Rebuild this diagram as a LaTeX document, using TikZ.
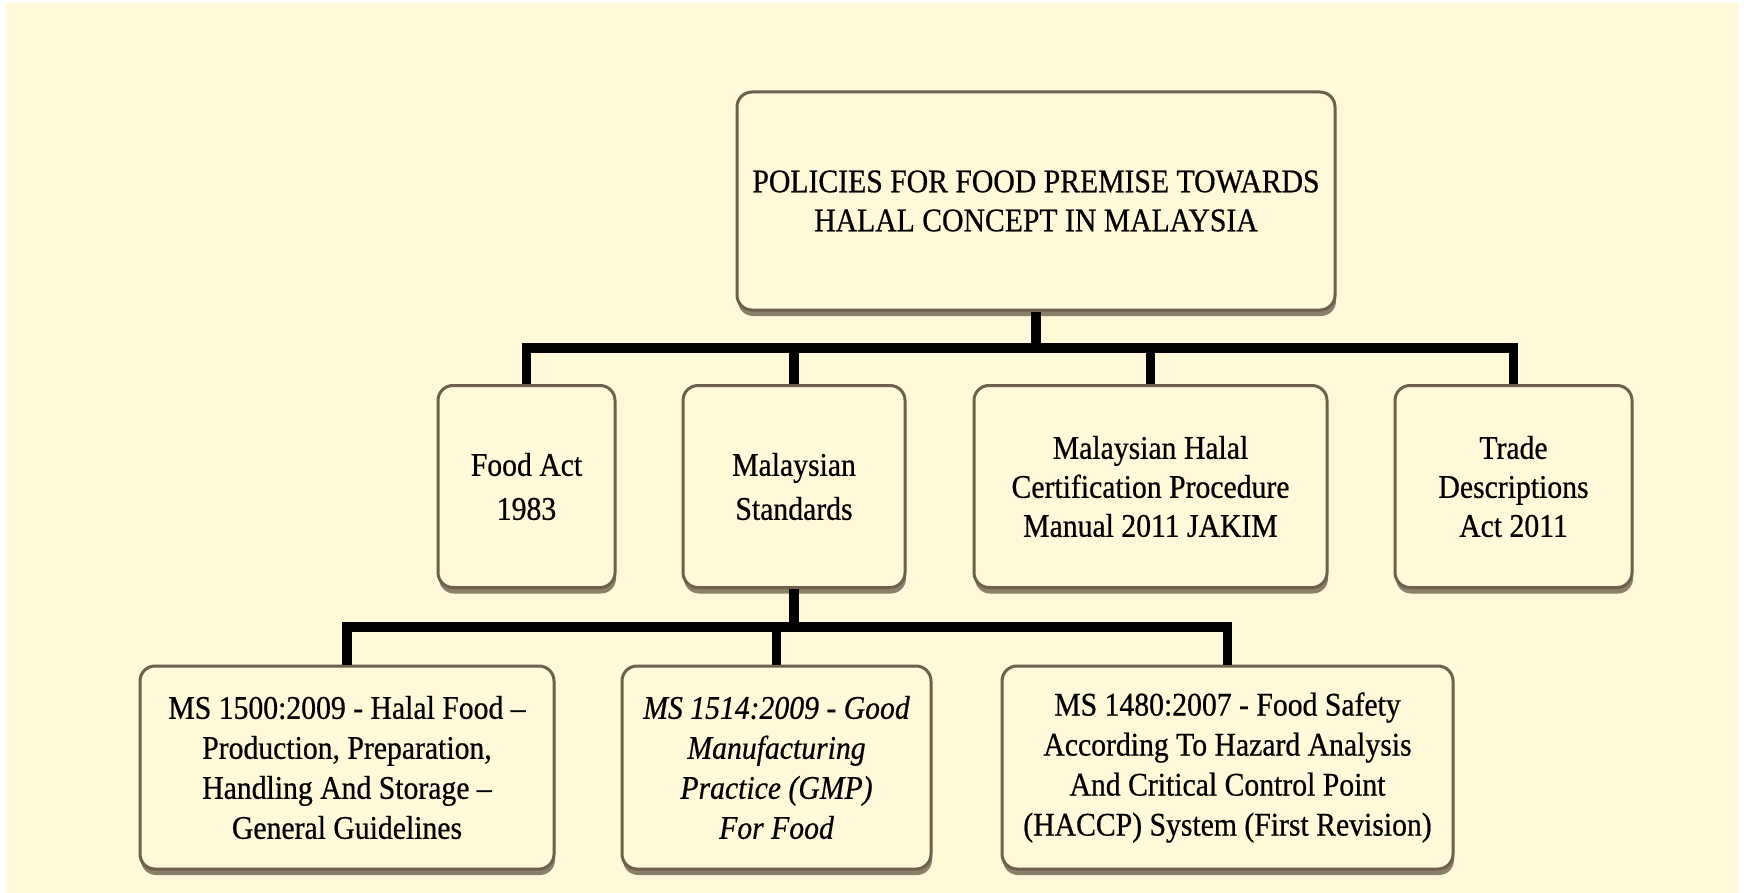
\documentclass[tikz,border=0pt]{standalone}
\usepackage{fontspec}
\setmainfont{Liberation Serif}[FakeStretch=0.9, FakeBold=0.6]
\usetikzlibrary{shadows}
\definecolor{paper}{HTML}{FFF9DA}
\definecolor{frame}{HTML}{6F604C}
\definecolor{shade}{HTML}{4E3E2C}
\begin{document}
\begin{tikzpicture}[x=1pt,y=-1pt,
  box/.style={draw=frame, line width=3pt, fill=paper, rounded corners=15pt,
    align=center, inner sep=0pt, font=\fontsize{33}{39}\selectfont,
    drop shadow={shadow xshift=1pt, shadow yshift=-6pt, fill=shade, opacity=0.65}},
  link/.style={line width=9.5pt, black}]
\useasboundingbox (0,0) rectangle (1744,893);
\fill[white] (0,0) rectangle (1744,893);
\fill[paper] (6,3) rectangle (1739,893);

% root
\node[box, minimum width=598pt, minimum height=218pt] (top) at (1036,201)
  {POLICIES FOR FOOD PREMISE TOWARDS\\HALAL CONCEPT IN MALAYSIA};

% second level
\node[box, minimum width=177pt, minimum height=202pt,
  font=\fontsize{33}{44}\selectfont] (food) at (526.5,486.5) {Food Act\\1983};
\node[box, minimum width=222pt, minimum height=202pt,
  font=\fontsize{33}{44}\selectfont] (ms) at (794,486.5) {Malaysian\\Standards};
\node[box, minimum width=353pt, minimum height=202pt] (jakim) at (1150.5,486.5)
  {Malaysian Halal\\Certification Procedure\\Manual 2011 JAKIM};
\node[box, minimum width=237pt, minimum height=202pt] (trade) at (1513.5,486.5)
  {Trade\\Descriptions\\Act 2011};

% third level
\node[box, minimum width=414pt, minimum height=203pt, font=\fontsize{33}{40}\selectfont] (ms1500) at (347,767.5)
  {MS 1500:2009 - Halal Food –\\Production, Preparation,\\Handling And Storage –\\General Guidelines};
\node[box, minimum width=309pt, minimum height=203pt, font=\fontsize{33}{40}\selectfont\itshape] (ms1514) at (776.5,767.5)
  {MS 1514:2009 - Good\\Manufacturing\\Practice (GMP)\\For Food};
\node[box, minimum width=451pt, minimum height=203pt, font=\fontsize{33}{40}\selectfont] (ms1480) at (1227.5,767.5)
  {MS 1480:2007 - Food Safety\\According To Hazard Analysis\\And Critical Control Point\\(HACCP) System (First Revision)};

% connectors
\coordinate (bar1) at (0,348);
\coordinate (bar2) at (0,627);
\draw[link] (top.south) -- (top.south |- bar1);
\draw[link] (food.north) -- (food.north |- bar1) -- (trade.north |- bar1) -- (trade.north);
\draw[link] (ms.north) -- (ms.north |- bar1);
\draw[link] (jakim.north) -- (jakim.north |- bar1);
\draw[link] (ms.south) -- (ms.south |- bar2);
\draw[link] (ms1500.north) -- (ms1500.north |- bar2) -- (ms1480.north |- bar2) -- (ms1480.north);
\draw[link] (ms1514.north) -- (ms1514.north |- bar2);
\end{tikzpicture}
\end{document}
